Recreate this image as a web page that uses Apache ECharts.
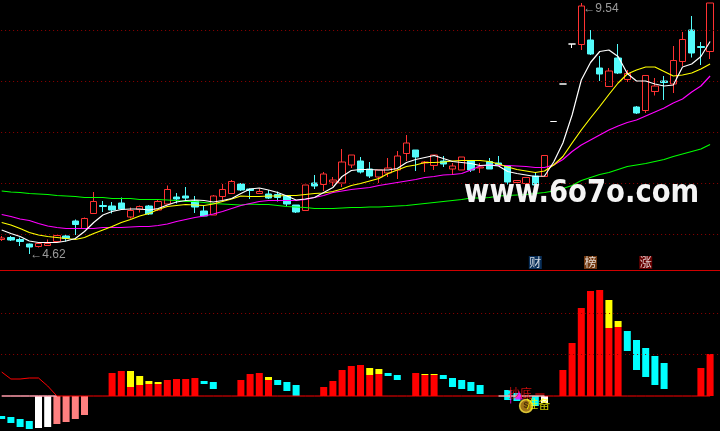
<!DOCTYPE html>
<html><head><meta charset="utf-8">
<style>html,body{margin:0;padding:0;background:#000}#c{width:720px;height:431px}</style>
<script src="https://cdn.jsdelivr.net/npm/echarts@6/dist/echarts.min.js"></script>
</head><body><div id="c"></div>
<script>
const opens=[4.81,4.85,4.81,4.72,4.67,4.69,4.77,4.88,5.18,5.03,
5.33,5.49,5.48,5.54,5.26,5.41,5.48,5.40,5.52,5.66,
5.68,5.58,5.38,5.30,5.67,5.73,5.92,5.82,5.73,5.72,
5.71,5.68,5.50,5.39,5.94,5.91,5.96,5.94,6.30,6.38,
6.22,6.06,6.14,6.20,6.53,6.60,6.34,6.29,6.38,6.22,
6.20,6.38,6.24,6.37,6.34,6.28,5.95,5.93,6.08,6.07,
7.17,7.92,8.72,8.71,8.80,8.24,7.87,8.44,8.01,7.46,
7.39,7.77,7.98,7.92,8.37,9.00,8.67,8.57];
const closes=[4.84,4.80,4.77,4.66,4.73,4.73,4.89,4.83,5.11,5.23,
5.57,5.47,5.40,5.42,5.39,5.47,5.32,5.57,5.81,5.62,
5.64,5.46,5.28,5.68,5.81,5.97,5.80,5.79,5.77,5.64,
5.65,5.52,5.36,5.90,5.88,6.12,6.00,6.36,6.50,6.16,
6.08,6.20,6.24,6.48,6.74,6.46,6.36,6.50,6.32,6.28,
6.46,6.20,6.26,6.22,6.30,5.96,5.99,6.05,5.90,6.49,
7.17,7.92,8.72,9.48,8.52,8.12,8.18,8.14,8.13,7.34,
8.09,7.88,7.95,8.39,8.81,8.54,8.65,9.54];
const lows=[4.78,4.78,4.68,4.52,4.65,4.68,4.76,4.77,4.90,5.03,
5.33,5.36,5.33,5.40,5.23,5.35,5.30,5.38,5.52,5.53,
5.58,5.34,5.28,5.30,5.60,5.73,5.78,5.62,5.72,5.62,
5.57,5.48,5.34,5.39,5.82,5.78,5.88,5.86,6.24,6.13,
6.04,5.94,6.06,6.02,6.38,6.18,6.16,6.20,6.26,6.10,
6.20,6.16,6.14,6.22,6.28,5.91,5.94,5.81,5.90,6.06,
7.17,7.92,8.64,8.60,8.50,7.98,7.86,8.12,7.96,7.32,
7.34,7.69,7.60,7.74,8.28,8.45,8.30,8.42];
const highs=[4.88,4.88,4.85,4.73,4.73,4.81,4.90,4.91,5.21,5.25,
5.76,5.58,5.56,5.65,5.45,5.49,5.50,5.61,5.89,5.74,
5.86,5.68,5.48,5.70,5.92,6.00,5.94,5.83,5.83,5.80,
5.77,5.70,5.50,5.90,6.10,6.16,6.06,6.62,6.50,6.46,
6.36,6.20,6.44,6.58,6.90,6.60,6.38,6.50,6.48,6.34,
6.46,6.40,6.34,6.44,6.48,6.28,6.00,6.05,6.15,6.49,
7.17,7.92,8.72,9.54,9.00,8.48,8.24,8.72,8.20,7.48,
8.09,8.04,8.08,8.68,8.96,9.28,8.76,9.54];
const flatDays=[60,61,62];
const maWhite=[5.00,4.93,4.87,4.78,4.75,4.75,4.75,4.78,4.83,4.97,
5.15,5.30,5.37,5.41,5.42,5.42,5.40,5.43,5.50,5.56,
5.59,5.60,5.59,5.56,5.59,5.63,5.73,5.82,5.84,5.80,
5.75,5.68,5.60,5.62,5.65,5.75,5.85,6.07,6.19,6.21,
6.21,6.20,6.20,6.23,6.35,6.41,6.45,6.49,6.43,6.37,
6.35,6.33,6.29,6.30,6.28,6.17,6.13,6.10,6.07,6.08,
6.36,6.74,7.30,8.00,8.35,8.57,8.60,8.47,8.13,7.98,
7.98,7.92,7.88,7.90,8.26,8.32,8.47,8.77];
const maYellow=[5.15,5.10,5.03,4.95,4.90,4.87,4.85,4.83,4.81,4.85,
4.93,5.00,5.07,5.15,5.21,5.28,5.33,5.41,5.47,5.49,
5.51,5.50,5.49,5.52,5.57,5.62,5.68,5.67,5.67,5.68,
5.68,5.69,5.69,5.71,5.73,5.74,5.77,5.82,5.89,5.93,
5.98,6.03,6.13,6.20,6.27,6.30,6.35,6.35,6.36,6.38,
6.39,6.39,6.39,6.37,6.32,6.26,6.21,6.18,6.15,6.18,
6.30,6.47,6.74,7.00,7.24,7.47,7.71,7.94,8.12,8.20,
8.26,8.26,8.17,8.08,8.10,8.14,8.22,8.32];
const maMagenta=[5.31,5.27,5.22,5.19,5.13,5.08,5.05,5.03,5.03,5.03,
5.03,5.05,5.05,5.05,5.06,5.07,5.07,5.09,5.12,5.17,
5.21,5.25,5.28,5.32,5.37,5.43,5.49,5.53,5.57,5.59,
5.59,5.59,5.59,5.61,5.65,5.69,5.75,5.78,5.81,5.83,
5.85,5.89,5.92,5.95,5.98,6.01,6.05,6.07,6.10,6.11,
6.13,6.20,6.28,6.30,6.29,6.29,6.28,6.27,6.25,6.25,
6.30,6.41,6.57,6.70,6.80,6.90,7.00,7.08,7.15,7.20,
7.28,7.36,7.44,7.54,7.62,7.76,7.88,8.08];
const maGreen=[5.78,5.76,5.75,5.73,5.72,5.71,5.69,5.68,5.67,5.65,
5.65,5.65,5.63,5.63,5.63,5.61,5.61,5.61,5.60,5.59,
5.57,5.57,5.55,5.53,5.52,5.51,5.50,5.52,5.51,5.51,
5.49,5.47,5.46,5.45,5.43,5.43,5.43,5.44,5.45,5.45,
5.46,5.46,5.47,5.48,5.49,5.51,5.53,5.55,5.57,5.59,
5.61,5.64,5.64,5.65,5.68,5.69,5.70,5.71,5.73,5.75,
5.78,5.83,5.89,5.99,6.05,6.11,6.15,6.21,6.27,6.30,
6.33,6.37,6.41,6.47,6.52,6.57,6.62,6.71];
const priceGuides=[9.0,7.98,6.96,5.94,4.92];
const lowerGuides=[83,42];
const barRed=[0,0,0,0,0,0,0,0,0,0,
0,0,23,25,9,11,12,12,16,17,
17,18,0,0,0,0,16,22,23,16,
0,0,0,0,0,9,15,26,30,31,
21,22,0,0,0,23,21,21,0,0,
0,0,0,0,0,0,0,0,0,0,
0,26,53,88,105,106,68,69,0,0,
0,0,0,0,0,0,28,42];
const barYellow=[0,0,0,0,0,0,0,0,0,0,
0,0,0,0,16,9,3,2,0,0,
0,0,0,0,0,0,0,0,0,3,
0,0,0,0,0,0,0,0,0,0,
7,5,0,0,0,0,1,1,0,0,
0,0,0,0,0,0,0,0,0,0,
0,0,0,0,0,0,28,6,0,0,
0,0,0,0,0,0,0,0];
const barOffset=[-20,-21,-23,-25,0,0,0,0,0,0,
0,0,0,0,0,0,0,0,0,0,
0,0,12,7,0,0,0,0,0,0,
11,5,0,0,0,0,0,0,0,0,
0,0,20,16,0,0,0,0,17,9,
7,5,2,0,0,0,0,0,0,0,
0,0,0,0,0,0,0,0,45,26,
19,11,7,0,0,0,0,0];
const barCyan=[-3,-6,-8,-8,0,0,0,0,0,0,
0,0,0,0,0,0,0,0,0,0,
0,0,3,7,0,0,0,0,0,0,
5,9,11,0,0,0,0,0,0,0,
0,0,3,5,0,0,0,0,4,9,
9,9,9,0,0,6,3,0,0,0,
0,0,0,0,0,0,0,0,20,30,
29,29,26,0,0,0,0,0];
const barCyanBelow=[0,0,0,0,0,0,0,0,0,0,
0,0,0,0,0,0,0,0,0,0,
0,0,0,0,0,0,0,0,0,0,
0,0,0,0,0,0,0,0,0,0,
0,0,0,0,0,0,0,0,0,0,
0,0,0,0,0,-4,-5,0,-10,0,
0,0,0,0,0,0,0,0,0,0,
0,0,0,0,0,0,0,0];
const barWhite=[0,0,0,0,-32,-31,0,0,0,0];
const whiteExtra=[[59,-7]];
const barPink=[0,0,0,0,0,0,-28,-26,-23,-19];
const redCurve=[24,17,17,18,18,10,0];
const baselineWhite=[0,0,0,0,0,0,0];
const baselineMark=[[54,0],[59,0]];
const signalLine=[[58,2],[59,2]];
const slotCount=80;
const categories=Array.from({length:slotCount},(_,i)=>String(i));

const candles=opens.map((o,i)=>{
  const value=[o,closes[i],lows[i],highs[i]];
  if(flatDays.includes(i)){
    return {value,itemStyle:{color:'#fff',color0:'#fff',borderColor:'#fff',borderColor0:'#fff'}};
  }
  return value;
});
const whiteBars=categories.map((_,i)=>{
  const e=whiteExtra.find(p=>p[0]===i);
  return e?e[1]:(barWhite[i]||0);
});
const pinkBars=categories.map((_,i)=>barPink[i]||0);
const ma=(name,data,color,z)=>({name,type:'line',data,xAxisIndex:0,yAxisIndex:0,symbol:'none',
  lineStyle:{color,width:1.2},z,silent:true,animation:false});
const bar=(name,data,color)=>({name,type:'bar',stack:'vol',data,xAxisIndex:1,yAxisIndex:1,barWidth:7,
  itemStyle:{color},silent:true,z:3});
const guide=(vals,xi,yi)=>({type:'line',data:[],xAxisIndex:xi,yAxisIndex:yi,
  markLine:{silent:true,symbol:'none',label:{show:false},animation:false,
    lineStyle:{color:'#900000',type:[1,3],width:1},data:vals.map(v=>({yAxis:v}))}});
const tag=(idx,val,text,bg)=>({value:[idx,val],symbolSize:0,label:{show:true,position:'inside',formatter:text,color:'#fff',
  fontFamily:'Noto Sans CJK SC',fontSize:12,lineHeight:13,width:13,height:13,align:'center',verticalAlign:'middle',backgroundColor:bg}});

const chart=echarts.init(document.getElementById('c'),null,{renderer:'canvas'});
chart.setOption({
  animation:false,backgroundColor:'#000',
  grid:[{left:-2.9,top:0,width:736,height:270,containLabel:false,outerBoundsMode:'none'},
        {left:-2.9,top:271,width:736,height:160,containLabel:false,outerBoundsMode:'none'}],
  xAxis:[
    {type:'category',gridIndex:0,data:categories,boundaryGap:true,
     axisLabel:{show:false},axisTick:{show:false},axisLine:{show:true,onZero:false,lineStyle:{color:'#d00000',width:1}},splitLine:{show:false}},
    {type:'category',gridIndex:1,data:categories,boundaryGap:true,
     axisLabel:{show:false},axisTick:{show:false},axisLine:{show:false},splitLine:{show:false}}],
  yAxis:[
    {type:'value',gridIndex:0,min:4.2,max:9.6,show:false,splitLine:{show:false}},
    {type:'value',gridIndex:1,min:-35,max:125,show:false,splitLine:{show:false}}],
  series:[
    guide(priceGuides,0,0),
    guide(lowerGuides,1,1),
    {name:'K',type:'candlestick',data:candles,xAxisIndex:0,yAxisIndex:0,barWidth:7,silent:true,z:2,
     itemStyle:{color:'rgba(0,0,0,0)',color0:'#54fcfc',borderColor:'#ff3232',borderColor0:'#54fcfc',borderWidth:1}},
    ma('MA60',maGreen,'#00ff00',4),
    ma('MA30',maMagenta,'#ff00ff',5),
    ma('MA10',maYellow,'#ffff00',6),
    ma('MA5',maWhite,'#ffffff',7),
    {type:'scatter',xAxisIndex:0,yAxisIndex:0,symbolSize:0,silent:true,z:20,
     data:[
      {value:[63,9.5],label:{show:true,position:'right',distance:0,offset:[2,4],formatter:'←9.54',color:'#c0c0c0',fontFamily:'Liberation Sans',fontSize:12}},
      {value:[3,4.52],label:{show:true,position:'right',distance:0,offset:[1,1],formatter:'←4.62',color:'#c0c0c0',fontFamily:'Liberation Sans',fontSize:12}},
      tag(58,4.35,'财','#0a3a6e'),tag(64,4.35,'榜','#8b4513'),tag(70,4.35,'涨','#800000')
     ]},
    bar('offset',barOffset,'rgba(0,0,0,0)'),
    bar('red',barRed,'#ff0000'),
    bar('yellow',barYellow,'#ffff00'),
    bar('cyan',barCyan,'#00ffff'),
    bar('cyanBelow',barCyanBelow,'#00ffff'),
    bar('white',whiteBars,'#ffffff'),
    bar('pink',pinkBars,'#ff8080'),
    {name:'base',type:'line',xAxisIndex:1,yAxisIndex:1,data:barRed.map(()=>0),symbol:'none',lineStyle:{color:'#ff0000',width:1},z:8,silent:true},
    {name:'baseW',type:'line',xAxisIndex:1,yAxisIndex:1,data:baselineWhite,symbol:'none',lineStyle:{color:'#ffe8ff',width:1},z:9,silent:true},
    {name:'curve',type:'line',xAxisIndex:1,yAxisIndex:1,data:redCurve,symbol:'none',lineStyle:{color:'#ff0000',width:1},z:9,silent:true},
    {name:'mark',type:'line',xAxisIndex:1,yAxisIndex:1,data:baselineMark,symbol:'none',lineStyle:{color:'#ffffff',width:1},z:9,silent:true},
    {name:'signal',type:'line',xAxisIndex:1,yAxisIndex:1,data:signalLine,symbol:'none',lineStyle:{color:'#ff0000',width:1},z:9,silent:true},
    {type:'scatter',xAxisIndex:1,yAxisIndex:1,silent:true,z:20,
     data:[
      {value:[55,0],symbol:'rect',symbolSize:[1,13],symbolOffset:[3,1],itemStyle:{color:'#ff00ff'}},
      {value:[56,0],symbol:'triangle',symbolSize:[8,9],symbolOffset:[2,-1],itemStyle:{color:'#ff00ff'}},
      {value:[56,3],symbolSize:0,label:{show:true,position:'inside',offset:[3,0],formatter:'抄底',color:'#ff1010',fontFamily:'Noto Sans CJK SC',fontSize:12}},
      {value:[57,-10],symbol:'circle',symbolSize:13,itemStyle:{color:'#c8921e',borderColor:'#ffe840',borderWidth:1.5},
       label:{show:true,position:'inside',formatter:'$',color:'#3a2000',fontFamily:'Liberation Sans',fontWeight:'bold',fontSize:9}},
      {value:[58,-8],symbolSize:0,label:{show:true,position:'inside',offset:[3,0],formatter:'准备',color:'#ffff00',fontFamily:'Noto Sans CJK SC',fontSize:12}}
     ]}
  ],
  graphic:[{type:'text',x:464,y:177,scaleY:1.16,z:100,silent:true,
    style:{text:'www.6o7o.com',fill:'#f4f4f4',font:'bold 27.5px "DejaVu Sans"'}}]
});
</script></body></html>
